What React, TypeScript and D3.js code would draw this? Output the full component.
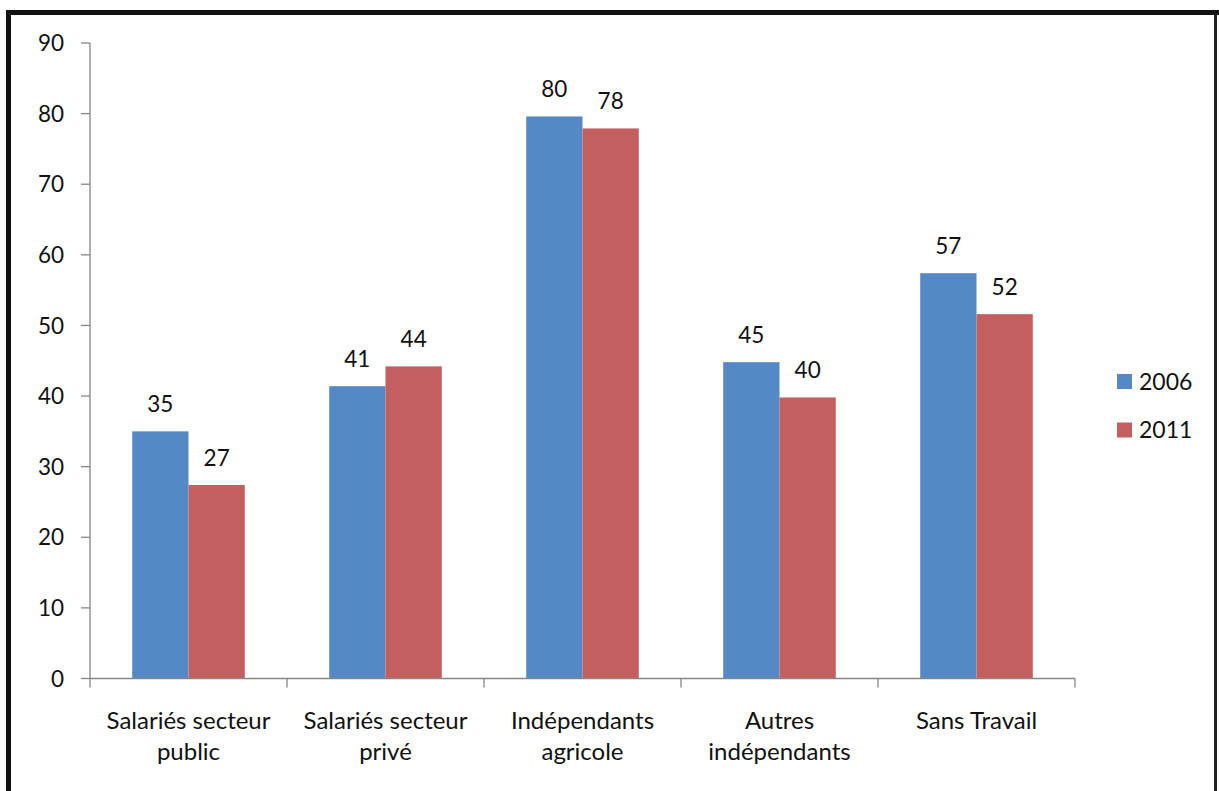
import React from "react";
import * as d3 from "d3";

// Categories and series values
const categories: string[][] = [
  ["Salariés secteur", "public"],
  ["Salariés secteur", "privé"],
  ["Indépendants", "agricole"],
  ["Autres", "indépendants"],
  ["Sans Travail"],
];
const seriesNames = ["2006", "2011"];
const values2006 = [35.0, 41.4, 79.6, 44.8, 57.4];
const values2011 = [27.4, 44.2, 77.9, 39.8, 51.6];
const yTicks = [0, 10, 20, 30, 40, 50, 60, 70, 80, 90];
const colors = ["#5589C5", "#C45F5F"];

const W = 1219;
const H = 791;
const FONT = "Lato, 'Open Sans', sans-serif";

export default function App() {
  const x0 = 90;
  const x1 = 1075;
  const yBottom = 678.5;
  const yTop = 43;

  const catKeys = categories.map((_, i) => String(i));
  const xCat = d3.scaleBand<string>().domain(catKeys).range([x0, x1]).padding(0);
  const catW = xCat.bandwidth();
  // Excel-style gap width of 150%: the group spans 2 bars, the gap 1.5 bars
  const barW = catW / 3.5;
  const xSeries = d3
    .scaleBand<string>()
    .domain(seriesNames)
    .range([barW * 0.75, barW * 2.75])
    .padding(0);
  const y = d3.scaleLinear().domain([0, 90]).range([yBottom, yTop]);
  const fmt = d3.format(".0f");
  const data = [values2006, values2011];

  const axisColor = "#868686";
  const textColor = "#111";

  return (
    <svg
      width={W}
      height={H}
      style={{ position: "absolute", left: 0, top: 0, background: "#fff" }}
      fontFamily={FONT}
    >
      <rect x={0} y={0} width={W} height={H} fill="#fff" />
      {/* frame */}
      <rect x={6} y={10} width={W - 6} height={5} fill="#111" />
      <rect x={6} y={10} width={5} height={H - 10} fill="#111" />
      <rect x={1214} y={15} width={3} height={H - 15} fill="#222" />

      {/* bars */}
      {categories.map((_, ci) =>
        seriesNames.map((s, si) => {
          const v = data[si][ci];
          const bx = (xCat(String(ci)) ?? 0) + (xSeries(s) ?? 0);
          const by = y(v);
          return (
            <g key={`${ci}-${si}`}>
              <rect x={bx} y={by} width={xSeries.bandwidth()} height={yBottom - by} fill={colors[si]} />
              <text
                x={bx + xSeries.bandwidth() / 2}
                y={by - 19}
                textAnchor="middle"
                fontSize={22.5}
                fill={textColor}
              >
                {fmt(v)}
              </text>
            </g>
          );
        })
      )}

      {/* y axis */}
      <line x1={x0} x2={x0} y1={yTop} y2={yBottom} stroke={axisColor} strokeWidth={1.3} />
      {yTicks.map((t) => (
        <g key={t}>
          <line x1={x0 - 9} x2={x0} y1={y(t)} y2={y(t)} stroke={axisColor} strokeWidth={1.3} />
          <text x={64} y={y(t)} dy="0.36em" textAnchor="end" fontSize={22.5} fill={textColor}>
            {t}
          </text>
        </g>
      ))}

      {/* x axis */}
      <line x1={x0} x2={x1} y1={yBottom} y2={yBottom} stroke={axisColor} strokeWidth={1.3} />
      {catKeys.concat(["end"]).map((k, i) => {
        const tx = k === "end" ? x1 : xCat(k) ?? 0;
        return <line key={i} x1={tx} x2={tx} y1={yBottom} y2={yBottom + 9} stroke={axisColor} strokeWidth={1.3} />;
      })}
      {categories.map((lines, ci) => (
        <text
          key={ci}
          x={(xCat(String(ci)) ?? 0) + catW / 2}
          y={729}
          textAnchor="middle"
          fontSize={24}
          fill={textColor}
        >
          {lines.map((l, li) => (
            <tspan key={li} x={(xCat(String(ci)) ?? 0) + catW / 2} dy={li === 0 ? 0 : 31}>
              {l}
            </tspan>
          ))}
        </text>
      ))}

      {/* legend */}
      {seriesNames.map((s, i) => (
        <g key={s} transform={`translate(1117, ${374 + i * 48.5})`}>
          <rect x={0} y={0} width={15} height={15} fill={colors[i]} />
          <text x={22} y={7.5} dy="0.36em" fontSize={23} fill={textColor}>
            {s}
          </text>
        </g>
      ))}
    </svg>
  );
}
